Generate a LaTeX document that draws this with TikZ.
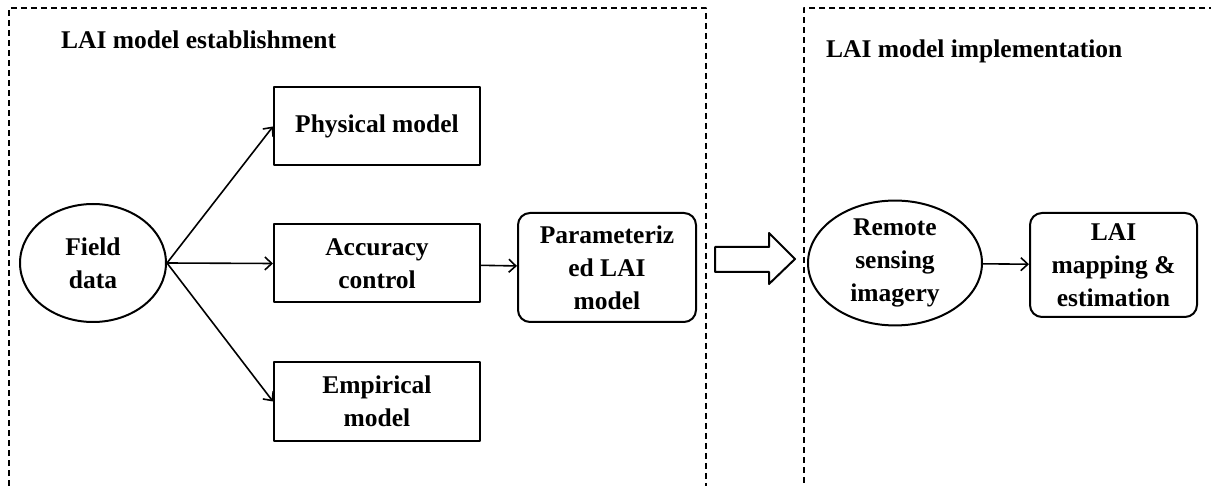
\documentclass[tikz,border=0pt]{standalone}
\usepackage{fontspec}
\setmainfont{Liberation Serif}
\usetikzlibrary{shapes.geometric,arrows.meta}
\begin{document}
\begin{tikzpicture}[x=1pt,y=-1pt,>={Straight Barb[length=7pt,width=13pt,line width=1.6pt]},line join=round,
	font=\fontsize{25.5}{33}\selectfont\bfseries,
	frame/.style={line width=1.6pt,dash pattern=on 6pt off 4pt},
	box/.style={draw,line width=2pt,align=center,minimum width=206pt,minimum height=78pt,inner sep=0pt},
	rbox/.style={box,rounded corners=12pt},
	oval/.style={draw,ellipse,line width=2pt,align=center,inner sep=0pt},
	link/.style={->,line width=1.6pt}]
	\useasboundingbox (0,0) rectangle (1211,486);
	% the two dashed frames
	\draw[frame] (9,486)--(9,8)--(706,8)--(706,486);
	\draw[frame] (1215,8)--(804,8)--(804,486);
	\node[anchor=west,inner sep=0pt] (est) at (61,40) {LAI model establishment};
	\node[anchor=west,inner sep=0pt] (imp) at (826,51) {LAI model implementation};
	% establishment
	\node[oval,minimum width=146pt,minimum height=118pt] (field) at (93,263) {Field\\data};
	\node[box] (phys) at (377,126.5) {Physical model};
	\node[box] (acc) at (377,263.5) {Accuracy\\control};
	\node[box] (emp) at (377,401.5) {Empirical\\model};
	\node[rbox,minimum width=178pt,minimum height=109pt] (par) at (607,267.5) {Parameteriz\\ed LAI\\model};
	\draw[link] (field.east)--(phys.west);
	\draw[link] (field.east)--(acc.west);
	\draw[link] (field.east)--(emp.west);
	\draw[link] (acc)--(par);
	% hollow arrow
	\draw[line width=2pt] (715,247)--(769,247)--(769,233)--(795,259)--(769,284)--(769,272)--(715,272)--cycle;
	% implementation
	\node[oval,minimum width=174pt,minimum height=118pt] (rs) at (895,263) {Remote\\sensing\\imagery};
	\node[rbox,minimum width=167pt,minimum height=104pt] (map) at (1113.5,265) {LAI\\mapping \&\\estimation};
	\draw[link] (rs)--(map);
\end{tikzpicture}
\end{document}
